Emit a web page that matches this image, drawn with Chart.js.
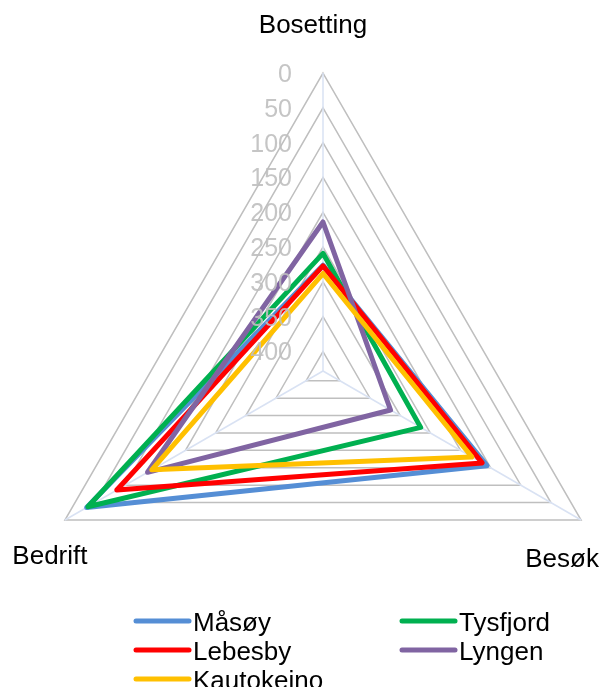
<!DOCTYPE html>
<html>
<head>
<meta charset="utf-8">
<script src="https://cdn.jsdelivr.net/npm/chart.js@4/dist/chart.umd.min.js"></script>
<style>
    html, body { margin: 0; padding: 0; background: #fff; overflow: hidden; }
    #wrap { width: 603px; height: 687px; overflow: hidden; }
</style>
</head>
<body>
<div id="wrap"><canvas id="radar" width="650" height="687"></canvas></div>
<script>
// Axes (clockwise from top)
const categories = ['Bosetting', 'Besøk', 'Bedrift'];

// Series values (reversed scale: 0 outside, higher towards the centre)
const masoy = [276, 156, 36];
const tysfjord = [259, 266, 38];
const lebesby = [277, 164, 86];
const lyngen = [214, 316, 137];
const kautokeino = [288, 181, 144];

const seriesNames = ['Måsøy', 'Tysfjord', 'Lebesby', 'Lyngen', 'Kautokeino'];
const seriesColors = ['#558ED5', '#00B050', '#FF0000', '#8064A2', '#FFC000'];

// Tick labels along the Bosetting axis
const tickLabels = [0, 50, 100, 150, 200, 250, 300, 350, 400];
const scaleMax = 428;

const FONT = '"Liberation Sans", Arial, sans-serif';

const seriesData = [masoy, tysfjord, lebesby, lyngen, kautokeino];
const datasets = seriesData.map((d, i) => ({
    label: seriesNames[i],
    data: d,
    borderColor: seriesColors[i],
    backgroundColor: seriesColors[i],
    borderWidth: 5,
    borderJoinStyle: 'round',
    pointRadius: 0,
    fill: false,
    order: seriesData.length - i
}));

// Tick labels to the left of the top axis (drawn over the series, like the original)
const tickLabelPlugin = {
    id: 'tickLabelPlugin',
    afterDatasetsDraw(chart) {
        const s = chart.scales.r;
        const ctx = chart.ctx;
        ctx.save();
        ctx.font = '25px ' + FONT;
        ctx.fillStyle = 'rgba(191, 191, 191, 0.9)';
        ctx.textAlign = 'right';
        ctx.textBaseline = 'middle';
        tickLabels.forEach(v => {
            const d = s.getDistanceFromCenterForValue(v);
            ctx.fillText(String(v), s.xCenter - 31, s.yCenter - d + 2);
        });
        ctx.restore();
    }
};

// Category labels near each vertex
const labelOffsets = [[-10, -47], [-19, 40], [-15, 37]];
const pointLabelPlugin = {
    id: 'pointLabelPlugin',
    afterDraw(chart) {
        const s = chart.scales.r;
        const ctx = chart.ctx;
        ctx.save();
        ctx.font = '26px ' + FONT;
        ctx.fillStyle = '#000';
        ctx.textAlign = 'center';
        ctx.textBaseline = 'middle';
        categories.forEach((c, i) => {
            const p = s.getPointPosition(i, s.drawingArea);
            ctx.fillText(c, p.x + labelOffsets[i][0], p.y + labelOffsets[i][1]);
        });
        ctx.restore();
    }
};

// Legend in two columns, row-wise
const legendPlugin = {
    id: 'legendPlugin',
    afterDraw(chart) {
        const ctx = chart.ctx;
        const colX = [134, 400];
        const rowY = [621, 650, 679];
        ctx.save();
        ctx.font = '26px ' + FONT;
        ctx.textAlign = 'left';
        ctx.textBaseline = 'middle';
        chart.data.datasets.forEach((ds, i) => {
            const x = colX[i % 2];
            const y = rowY[Math.floor(i / 2)];
            ctx.strokeStyle = ds.borderColor;
            ctx.lineWidth = 5;
            ctx.lineCap = 'round';
            ctx.beginPath();
            ctx.moveTo(x + 2, y);
            ctx.lineTo(x + 55, y);
            ctx.stroke();
            ctx.fillStyle = '#000';
            ctx.fillText(ds.label, x + 59, y + 3);
        });
        ctx.restore();
    }
};

new Chart(document.getElementById('radar'), {
    type: 'radar',
    data: {
        labels: categories,
        datasets: datasets
    },
    options: {
        responsive: false,
        animation: false,
        devicePixelRatio: 1,
        layout: {
            padding: { left: 25, top: 73, right: 29, bottom: 18 }
        },
        plugins: {
            legend: { display: false },
            tooltip: { enabled: false }
        },
        scales: {
            r: {
                min: 0,
                max: scaleMax,
                reverse: true,
                afterBuildTicks: (scale) => {
                    // leading dummy tick at the centre so the outer 0 ring is drawn too
                    scale.ticks = [{ value: scaleMax }].concat(tickLabels.map(v => ({ value: v })));
                },
                ticks: { display: false },
                pointLabels: { display: false },
                grid: { color: '#BFBFBF', lineWidth: 1.5 },
                angleLines: { color: '#D9E2F3', lineWidth: 1.5 }
            }
        }
    },
    plugins: [tickLabelPlugin, pointLabelPlugin, legendPlugin]
});
</script>
</body>
</html>
